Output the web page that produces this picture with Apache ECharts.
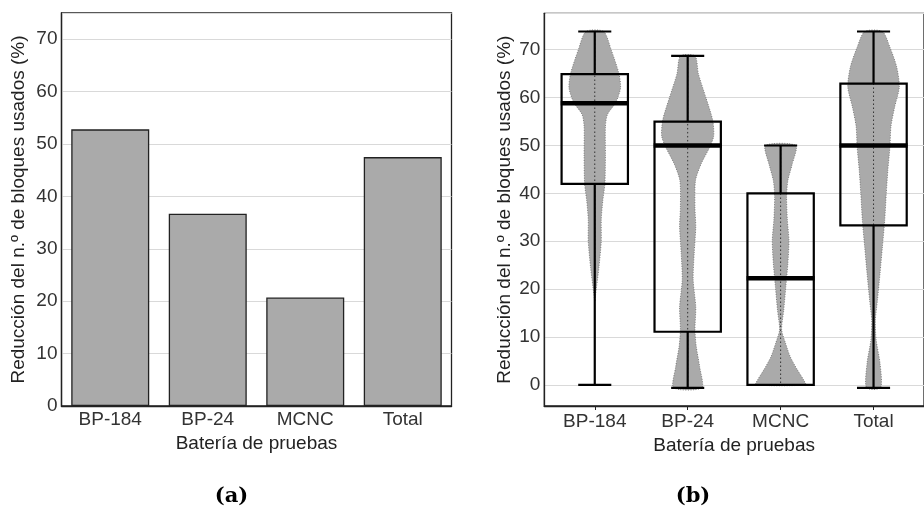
<!DOCTYPE html>
<html><head><meta charset="utf-8">
<script src="https://cdn.jsdelivr.net/npm/echarts@6/dist/echarts.min.js"></script>
<style>html,body{margin:0;padding:0;background:#fff}#c{width:924px;height:512px}</style>
</head><body><div id="c"></div>
<script>
// ---------- data ----------
const categories = ['BP-184', 'BP-24', 'MCNC', 'Total'];
const meanReduction = [52.8, 36.7, 20.7, 47.5];
const yTicksA = [0, 10, 20, 30, 40, 50, 60, 70];
const yTicksB = [0, 10, 20, 30, 40, 50, 60, 70];

// box plot statistics
const whiskerLow  = [0, -0.6, 0, -0.6];
const q1          = [42, 11.1, 0, 33.3];
const median      = [58.8, 50, 22.3, 50];
const q3          = [64.9, 55, 40, 62.9];
const whiskerHigh = [73.8, 68.7, 50, 73.8];

// violin densities (relative width, 1 = widest) at given values
const violinY_BP184 = [73.8, 70, 65, 62, 59, 56.5, 54, 48, 42, 38.5, 34.5, 30, 24.5, 20.5, 17.5];
const violinD_BP184 = [0.34, 0.63, 0.93, 0.99, 0.81, 0.49, 0.41, 0.41, 0.39, 0.31, 0.25, 0.25, 0.16, 0.07, 0];
const violinY_BP24 = [68.7, 65, 60, 55.3, 52, 49.7, 46.2, 42.7, 37, 33, 27.5, 22, 16.3, 11.5, 8, 3.8, -0.6];
const violinD_BP24 = [0.28, 0.41, 0.70, 0.96, 1.0, 0.85, 0.52, 0.30, 0.28, 0.31, 0.25, 0.21, 0.31, 0.28, 0.33, 0.46, 0.54];
const violinY_MCNC = [50, 46, 42.7, 39.3, 34.4, 30.2, 25.4, 20.5, 15.6, 11.5, 8.7, 5.9, 3.1, 1, 0];
const violinD_MCNC = [0.58, 0.44, 0.28, 0.23, 0.26, 0.32, 0.28, 0.20, 0.12, 0.04, 0.19, 0.37, 0.65, 0.89, 0.96];
const violinY_Total = [73.8, 70.5, 66.4, 62.2, 58, 54, 49.7, 44.8, 40, 34.4, 28.8, 23.3, 17.7, 13.5, 9.4, 4.5, -0.6];
const violinD_Total = [0.34, 0.63, 0.89, 0.99, 0.81, 0.67, 0.63, 0.55, 0.49, 0.43, 0.34, 0.25, 0.15, 0.07, 0.10, 0.25, 0.27];

const violinY = [violinY_BP184, violinY_BP24, violinY_MCNC, violinY_Total];
const violinD = [violinD_BP184, violinD_BP24, violinD_MCNC, violinD_Total];

// ---------- styling constants ----------
const FONT = '"Liberation Sans", Arial, sans-serif';
const VW = 0.28;     // violin max half-width (x units)
const BW = 0.357;    // box half-width
const CW = 0.178;    // cap half-width
const MW = 0.366;    // median half-width

const chart = echarts.init(document.getElementById('c'), null, {renderer: 'canvas'});

function violinItem(params, api) {
  const i = params.dataIndex;
  const x = api.value(0);
  const ys = violinY[i], ds = violinD[i];
  const right = ys.map((y, k) => api.coord([x + ds[k] * VW, y]));
  const left = ys.map((y, k) => api.coord([x - ds[k] * VW, y])).reverse();
  const top = api.coord([x, ys[0]]);
  const bot = api.coord([x, ys[ys.length - 1]]);
  return {
    type: 'group',
    children: [
      {type: 'polygon', shape: {points: right.concat(left), smooth: 0.25},
       style: {fill: '#aaaaaa', stroke: '#666', lineWidth: 0.8, lineDash: [1, 1.5]}},
      {type: 'line', shape: {x1: top[0], y1: top[1], x2: bot[0], y2: bot[1]},
       style: {stroke: '#333', lineWidth: 1, lineDash: [1.5, 2.5]}}
    ]
  };
}

function boxItem(params, api) {
  const i = params.dataIndex;
  const x = api.value(0);
  const p = (dx, y) => api.coord([x + dx, y]);
  const bl = p(-BW, q1[i]), tr = p(BW, q3[i]);
  const wTop = p(0, whiskerHigh[i]), q3c = p(0, q3[i]);
  const wBot = p(0, whiskerLow[i]), q1c = p(0, q1[i]);
  const capT1 = p(-CW, whiskerHigh[i]), capT2 = p(CW, whiskerHigh[i]);
  const capB1 = p(-CW, whiskerLow[i]), capB2 = p(CW, whiskerLow[i]);
  const m1 = p(-MW, median[i]), m2 = p(MW, median[i]);
  const ls = {stroke: '#000', lineWidth: 2.2};
  const children = [
    {type: 'rect', shape: {x: bl[0], y: tr[1], width: tr[0] - bl[0], height: bl[1] - tr[1]},
     style: {fill: 'none', stroke: '#000', lineWidth: 2.2}},
    {type: 'line', shape: {x1: q3c[0], y1: q3c[1], x2: wTop[0], y2: wTop[1]}, style: ls},
    {type: 'line', shape: {x1: capT1[0], y1: capT1[1], x2: capT2[0], y2: capT2[1]}, style: ls},
    {type: 'line', shape: {x1: m1[0], y1: m1[1], x2: m2[0], y2: m2[1]}, style: {stroke: '#000', lineWidth: 4.5}}
  ];
  if (whiskerLow[i] < q1[i]) {
    children.push({type: 'line', shape: {x1: q1c[0], y1: q1c[1], x2: wBot[0], y2: wBot[1]}, style: ls});
    children.push({type: 'line', shape: {x1: capB1[0], y1: capB1[1], x2: capB2[0], y2: capB2[1]}, style: ls});
  }
  return {type: 'group', children};
}

const xPos = categories.map((c, i) => [i + 1, median[i]]);

const option = {
  animation: false,
  backgroundColor: '#fff',
  grid: [
    {left: 61.5, top: 13, width: 390, height: 393, show: true, borderColor: '#222', borderWidth: 1.3, backgroundColor: 'transparent'},
    {left: 544.3, top: 13.3, right: -11.7, height: 392.7, show: true, borderColor: '#222', borderWidth: 1.3, backgroundColor: 'transparent'}
  ],
  xAxis: [
    {
      gridIndex: 0, type: 'category', data: categories, boundaryGap: true,
      axisLine: {lineStyle: {color: '#222', width: 1.3}},
      axisTick: {show: false},
      axisLabel: {color: '#333', fontFamily: FONT, fontSize: 19, margin: 4},
      name: 'Batería de pruebas', nameLocation: 'middle', nameGap: 26,
      nameTextStyle: {color: '#222', fontFamily: FONT, fontSize: 19}
    },
    {
      gridIndex: 1, type: 'value', min: 0.457, max: 4.543,
      splitLine: {show: false},
      axisLine: {onZero: false, lineStyle: {color: '#222', width: 1.3}},
      axisTick: {show: true, length: 4, customValues: [1, 2, 3, 4], lineStyle: {color: '#222'}},
      axisLabel: {customValues: [1, 2, 3, 4], color: '#333', fontFamily: FONT, fontSize: 19, margin: 6,
                  formatter: v => categories[Math.round(v) - 1] || ''},
      name: 'Batería de pruebas', nameLocation: 'middle', nameGap: 28,
      nameTextStyle: {color: '#222', fontFamily: FONT, fontSize: 19}
    }
  ],
  yAxis: [
    {
      gridIndex: 0, type: 'value', min: 0, max: 75, interval: 10,
      axisLine: {show: true, lineStyle: {color: '#222', width: 1.3}},
      axisTick: {show: false},
      splitLine: {lineStyle: {color: '#d9d9d9', width: 1}},
      axisLabel: {color: '#333', fontFamily: FONT, fontSize: 19, margin: 4,
                  formatter: v => (yTicksA.indexOf(v) >= 0 ? String(v) : '')},
      name: 'Reducción del n.º de bloques usados (%)', nameLocation: 'middle', nameGap: 33,
      nameTextStyle: {color: '#222', fontFamily: FONT, fontSize: 19}
    },
    {
      gridIndex: 1, type: 'value', min: -4.4, max: 77.6, splitNumber: 8,
      axisLine: {show: true, onZero: false, lineStyle: {color: '#222', width: 1.3}},
      axisTick: {show: false},
      splitLine: {lineStyle: {color: '#d9d9d9', width: 1}},
      axisLabel: {customValues: yTicksB, color: '#333', fontFamily: FONT, fontSize: 19, margin: 4},
      name: 'Reducción del n.º de bloques usados (%)', nameLocation: 'middle', nameGap: 30,
      nameTextStyle: {color: '#222', fontFamily: FONT, fontSize: 19}
    }
  ],
  series: [
    {
      type: 'bar', xAxisIndex: 0, yAxisIndex: 0, data: meanReduction, barCategoryGap: '20%',
      itemStyle: {color: '#aaaaaa', borderColor: '#222', borderWidth: 1.3}
    },
    {
      type: 'custom', xAxisIndex: 1, yAxisIndex: 1, data: xPos, encode: {x: 0, y: 1},
      renderItem: violinItem, clip: false, z: 2
    },
    {
      type: 'custom', xAxisIndex: 1, yAxisIndex: 1, data: xPos, encode: {x: 0, y: 1},
      renderItem: boxItem, clip: false, z: 3
    }
  ],
  graphic: [
    {type: 'text', x: 231.5, y: 496.5, style: {text: '(a)', align: 'center', verticalAlign: 'middle',
      font: 'bold 21px "DejaVu Serif", serif', fill: '#000'}},
    {type: 'text', x: 693, y: 496.5, style: {text: '(b)', align: 'center', verticalAlign: 'middle',
      font: 'bold 21px "DejaVu Serif", serif', fill: '#000'}}
  ]
};
chart.setOption(option);
</script>
</body></html>
